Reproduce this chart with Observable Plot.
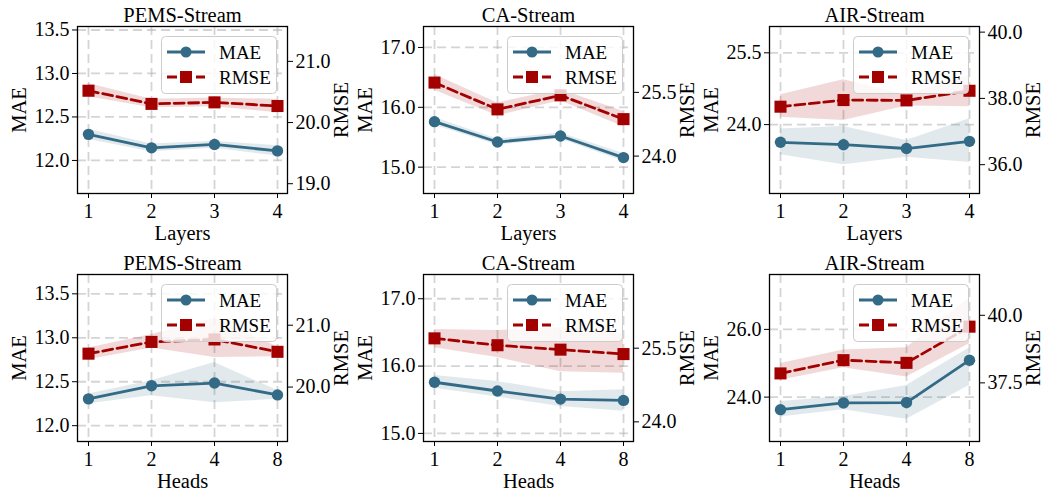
<!DOCTYPE html>
<html><head><meta charset="utf-8">
<script src="https://cdn.jsdelivr.net/npm/d3@7"></script>
<script src="https://cdn.jsdelivr.net/npm/@observablehq/plot@0.6"></script>
<style>
body{margin:0;background:#fff;}
#chart{position:relative;width:1045px;height:492px;overflow:hidden;font-family:"Liberation Serif";font-weight:normal;}
#chart .layer{position:absolute;}
#chart svg{overflow:visible;}
#chart text{font-family:"Liberation Serif";font-weight:400;}
</style></head><body><div id="chart"></div>
<script>
const FONT = "Liberation Serif";
const MAE_COLOR = "#336b87";
const RMSE_COLOR = "#a30000";

const layerCats = ["1", "2", "3", "4"];
const headCats = ["1", "2", "4", "8"];
const datasetTitles = ["PEMS-Stream", "CA-Stream", "AIR-Stream"];
const xLabels = ["Layers", "Heads"];

// ---- Row 1: Layers ----
const pemsLayersMae   = [12.30, 12.145, 12.184, 12.11];
const pemsLayersMaeLo = [12.24, 12.10, 12.14, 12.05];
const pemsLayersMaeHi = [12.36, 12.19, 12.22, 12.17];
const pemsLayersRmse   = [20.52, 20.305, 20.33, 20.27];
const pemsLayersRmseLo = [20.42, 20.24, 20.26, 20.16];
const pemsLayersRmseHi = [20.64, 20.38, 20.40, 20.38];

const caLayersMae   = [15.76, 15.42, 15.52, 15.16];
const caLayersMaeLo = [15.70, 15.37, 15.47, 15.10];
const caLayersMaeHi = [15.83, 15.47, 15.57, 15.23];
const caLayersRmse   = [25.73, 25.10, 25.43, 24.87];
const caLayersRmseLo = [25.55, 24.95, 25.30, 24.69];
const caLayersRmseHi = [25.92, 25.25, 25.57, 25.05];

const airLayersMae   = [23.63, 23.58, 23.50, 23.65];
const airLayersMaeLo = [23.37, 23.16, 23.32, 23.21];
const airLayersMaeHi = [23.91, 23.96, 23.67, 24.12];
const airLayersRmse   = [37.75, 37.95, 37.94, 38.23];
const airLayersRmseLo = [37.43, 37.33, 37.77, 37.75];
const airLayersRmseHi = [38.11, 38.56, 38.10, 38.69];

// ---- Row 2: Heads ----
const pemsHeadsMae   = [12.305, 12.454, 12.485, 12.35];
const pemsHeadsMaeLo = [12.25, 12.34, 12.26, 12.30];
const pemsHeadsMaeHi = [12.36, 12.51, 12.72, 12.40];
const pemsHeadsRmse   = [20.54, 20.73, 20.77, 20.57];
const pemsHeadsRmseLo = [20.44, 20.63, 20.48, 20.49];
const pemsHeadsRmseHi = [20.63, 20.85, 21.11, 20.65];

const caHeadsMae   = [15.76, 15.63, 15.51, 15.49];
const caHeadsMaeLo = [15.67, 15.54, 15.40, 15.33];
const caHeadsMaeHi = [15.86, 15.77, 15.62, 15.65];
const caHeadsRmse   = [25.70, 25.56, 25.47, 25.38];
const caHeadsRmseLo = [25.51, 25.31, 25.02, 24.99];
const caHeadsRmseHi = [25.88, 25.86, 25.92, 25.79];

const airHeadsMae   = [23.63, 23.83, 23.84, 25.09];
const airHeadsMaeLo = [23.41, 23.63, 23.35, 24.34];
const airHeadsMaeHi = [23.87, 24.02, 24.34, 25.45];
const airHeadsRmse   = [37.85, 38.34, 38.24, 39.58];
const airHeadsRmseLo = [37.60, 38.06, 37.72, 38.95];
const airHeadsRmseHi = [38.22, 38.72, 38.80, 40.65];

// axis domains and tick values
const maeDomains = [[11.62, 13.54], [14.56, 17.35], [22.56, 26.05], [11.82, 13.72], [14.88, 17.36], [22.69, 27.62]];
const rmseDomains = [[18.84, 21.57], [23.12, 27.05], [35.13, 40.17], [19.12, 21.82], [23.60, 27.00], [35.33, 41.51]];
const maeTicks = [[12.0, 12.5, 13.0, 13.5], [15.0, 16.0, 17.0], [24.0, 25.5], [12.0, 12.5, 13.0, 13.5], [15.0, 16.0, 17.0], [24.0, 26.0]];
const rmseTicks = [[19.0, 20.0, 21.0], [24.0, 25.5], [36.0, 38.0, 40.0], [20.0, 21.0], [24.0, 25.5], [37.5, 40.0]];

const panels = [
  {title: datasetTitles[0], xLabel: xLabels[0], cats: layerCats, mae: pemsLayersMae, maeLo: pemsLayersMaeLo, maeHi: pemsLayersMaeHi, rmse: pemsLayersRmse, rmseLo: pemsLayersRmseLo, rmseHi: pemsLayersRmseHi},
  {title: datasetTitles[1], xLabel: xLabels[0], cats: layerCats, mae: caLayersMae, maeLo: caLayersMaeLo, maeHi: caLayersMaeHi, rmse: caLayersRmse, rmseLo: caLayersRmseLo, rmseHi: caLayersRmseHi},
  {title: datasetTitles[2], xLabel: xLabels[0], cats: layerCats, mae: airLayersMae, maeLo: airLayersMaeLo, maeHi: airLayersMaeHi, rmse: airLayersRmse, rmseLo: airLayersRmseLo, rmseHi: airLayersRmseHi},
  {title: datasetTitles[0], xLabel: xLabels[1], cats: headCats, mae: pemsHeadsMae, maeLo: pemsHeadsMaeLo, maeHi: pemsHeadsMaeHi, rmse: pemsHeadsRmse, rmseLo: pemsHeadsRmseLo, rmseHi: pemsHeadsRmseHi},
  {title: datasetTitles[1], xLabel: xLabels[1], cats: headCats, mae: caHeadsMae, maeLo: caHeadsMaeLo, maeHi: caHeadsMaeHi, rmse: caHeadsRmse, rmseLo: caHeadsRmseLo, rmseHi: caHeadsRmseHi},
  {title: datasetTitles[2], xLabel: xLabels[1], cats: headCats, mae: airHeadsMae, maeLo: airHeadsMaeLo, maeHi: airHeadsMaeHi, rmse: airHeadsRmse, rmseLo: airHeadsRmseLo, rmseHi: airHeadsRmseHi}
];

// layout
const W = 348, H = 246, ML = 77, MR = 61, MT = 26, MB = 53;
const colLeft = [0, 346, 692];
const rowTop = [0, 248];
const fmt = d3.format(".1f");
const gridStyle = {stroke: "#b0b0b0", strokeOpacity: 0.55, strokeWidth: 1.8, strokeDasharray: "9,5"};

const chart = document.getElementById("chart");

function place(node, left, top) {
  const div = document.createElement("div");
  div.className = "layer";
  div.style.left = left + "px";
  div.style.top = top + "px";
  div.appendChild(node);
  chart.appendChild(div);
}

function legend() {
  const s = d3.create("svg").attr("width", 116).attr("height", 58);
  s.append("rect").attr("x", 0.5).attr("y", 0.5).attr("width", 115).attr("height", 57).attr("rx", 4)
    .attr("fill", "rgba(255,255,255,0.8)").attr("stroke", "#cccccc").attr("stroke-width", 1);
  s.append("line").attr("x1", 6).attr("x2", 44).attr("y1", 16).attr("y2", 16)
    .attr("stroke", MAE_COLOR).attr("stroke-width", 2.8);
  s.append("circle").attr("cx", 25).attr("cy", 16).attr("r", 5.5).attr("fill", MAE_COLOR);
  s.append("line").attr("x1", 6).attr("x2", 44).attr("y1", 41).attr("y2", 41)
    .attr("stroke", RMSE_COLOR).attr("stroke-width", 2.8).attr("stroke-dasharray", "10,4.5");
  s.append("rect").attr("x", 19).attr("y", 35).attr("width", 12).attr("height", 12).attr("fill", RMSE_COLOR);
  s.append("text").attr("x", 58).attr("y", 16).attr("dy", "0.35em").style("font-size", "19px").text("MAE");
  s.append("text").attr("x", 58).attr("y", 41).attr("dy", "0.35em").style("font-size", "19px").text("RMSE");
  return s.node();
}

panels.forEach((p, i) => {
  const rows = p.cats.map((c, j) => ({
    x: c, mae: p.mae[j], maeLo: p.maeLo[j], maeHi: p.maeHi[j],
    rmse: p.rmse[j], rmseLo: p.rmseLo[j], rmseHi: p.rmseHi[j]
  }));
  const left = colLeft[i % 3], top = rowTop[Math.floor(i / 3)];
  const base = {
    width: W, height: H, marginLeft: ML, marginRight: MR, marginTop: MT, marginBottom: MB,
    style: {fontFamily: FONT, fontSize: "20px", fontWeight: "normal", background: "transparent", color: "#000", overflow: "visible"}
  };
  const xScale = {type: "point", domain: p.cats, padding: 0.15};

  const maePlot = Plot.plot({
    ...base,
    x: xScale,
    y: {domain: maeDomains[i]},
    marks: [
      Plot.gridX(gridStyle),
      Plot.gridY(maeTicks[i], gridStyle),
      Plot.areaY(rows, {x: "x", y1: "maeLo", y2: "maeHi", fill: MAE_COLOR, fillOpacity: 0.15}),
      Plot.lineY(rows, {x: "x", y: "mae", stroke: MAE_COLOR, strokeWidth: 2.8}),
      Plot.dot(rows, {x: "x", y: "mae", r: 5.7, fill: MAE_COLOR, stroke: "none"}),
      Plot.axisX({tickSize: 5, tickPadding: 5, fontSize: 20, label: p.xLabel, labelAnchor: "center", labelOffset: 46, labelArrow: false}),
      Plot.axisY(maeTicks[i], {anchor: "left", tickFormat: fmt, tickSize: 5, tickPadding: 3, fontSize: 20, label: "MAE", labelAnchor: "center", labelOffset: 66, labelArrow: false}),
      Plot.frame({stroke: "#000", strokeWidth: 1.3}),
      Plot.text([p.title], {frameAnchor: "top", lineAnchor: "middle", dy: -11, fontSize: 20.5, fontWeight: "normal"})
    ]
  });
  maePlot.querySelectorAll("g[aria-label='y-axis label'] text, g[aria-label='x-axis label'] text").forEach(t => t.setAttribute("font-size", "20.5"));
  place(maePlot, left, top);

  const rmsePlot = Plot.plot({
    ...base,
    x: {...xScale, axis: null},
    y: {domain: rmseDomains[i]},
    marks: [
      Plot.areaY(rows, {x: "x", y1: "rmseLo", y2: "rmseHi", fill: RMSE_COLOR, fillOpacity: 0.15}),
      Plot.lineY(rows, {x: "x", y: "rmse", stroke: RMSE_COLOR, strokeWidth: 2.8, strokeDasharray: "10,4.5"}),
      Plot.dot(rows, {x: "x", y: "rmse", symbol: "square", r: 6.8, fill: RMSE_COLOR, stroke: "none"}),
      Plot.axisY(rmseTicks[i], {anchor: "right", tickFormat: fmt, tickSize: 5, tickPadding: 3, fontSize: 20, label: "RMSE", labelAnchor: "center", labelOffset: 60, labelArrow: false})
    ]
  });
  rmsePlot.querySelectorAll("g[aria-label='y-axis label'] text").forEach(t => t.setAttribute("font-size", "20.5"));
  place(rmsePlot, left, top);

  place(legend(), left + ML + (W - ML - MR) - 10 - 116, top + MT + 10);
});
</script>
</body></html>
